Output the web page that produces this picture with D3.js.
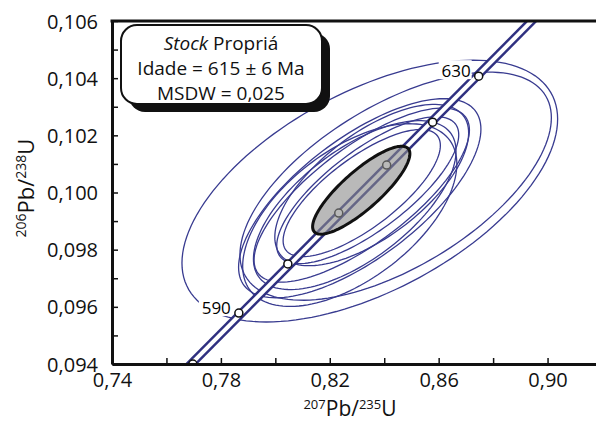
<!DOCTYPE html>
<html>
<head>
<meta charset="utf-8">
<script src="https://cdn.jsdelivr.net/npm/d3@7"></script>
<style>
  body { margin: 0; background: #fff; }
  text { font-family: "Open Sans", sans-serif; }
</style>
</head>
<body>
<div id="chart"></div>
<script>
var width = 596;
var height = 423;

// axis ticks
var xTicks = [0.74, 0.78, 0.82, 0.86, 0.90];
var xMinorTicks = [0.76, 0.80, 0.84, 0.88, 0.92];
var yTicks = [0.094, 0.096, 0.098, 0.100, 0.102, 0.104, 0.106];
var yMinorTicks = [0.095, 0.097, 0.099, 0.101, 0.103, 0.105];

// concordia age markers
var markerX = [0.7697, 0.7866, 0.8046, 0.8233, 0.8409, 0.8578, 0.8747];
var markerY = [0.0940, 0.09578, 0.09750, 0.09928, 0.10096, 0.10246, 0.10407];
var markerLabels = ['', '590', '', '', '', '', '630'];

// concordia band end points
var concX = [0.7680, 0.8952];
var concY = [0.0939, 0.1061];

// error ellipses: centre, half widths and correlation
var ellCx  = [0.8347, 0.8442, 0.83101, 0.83174, 0.82917, 0.83394, 0.83174, 0.82734, 0.83541];
var ellCy  = [0.10005, 0.10022, 0.09980, 0.09991, 0.09956, 0.10008, 0.09998, 0.09921, 0.10026];
var ellSx  = [0.0690, 0.0572, 0.04451, 0.03956, 0.03721, 0.03343, 0.02888, 0.03934, 0.03560];
var ellSy  = [0.00458, 0.00399, 0.003483, 0.003045, 0.002955, 0.002570, 0.002224, 0.003196, 0.002822];
var ellRho = [0.55, 0.60, 0.693, 0.747, 0.638, 0.754, 0.749, 0.559, 0.646];

// mean (concordia age) ellipse
var meanEll = { cx: 0.83156, cy: 0.10008, sx: 0.01787, sy: 0.001538, rho: 0.83 };

var boxLines = ['Propriá', 'Idade = 615 ± 6 Ma', 'MSDW = 0,025'];

var x = d3.scaleLinear().domain([0.74, 0.92]).range([112, 602]);
var y = d3.scaleLinear().domain([0.094, 0.106]).range([364, 21]);

var fmt = (d) => d3.format('.2f')(d).replace('.', ',');
var fmtY = (d) => d3.format('.3f')(d).replace('.', ',');

var svg = d3.select('#chart')
    .append('svg')
    .attr('width', width)
    .attr('height', height);

svg.append('clipPath')
    .attr('id', 'plot')
    .append('rect')
    .attr('x', x(0.74))
    .attr('y', y(0.106))
    .attr('width', width - x(0.74))
    .attr('height', y(0.094) - y(0.106));

var plot = svg.append('g').attr('clip-path', 'url(#plot)');

function ellipsePoints(cx, cy, sx, sy, rho) {
    var pts = [];
    var n = 140;
    var k = Math.sqrt(1 - rho * rho);
    for (var i = 0; i < n; i++) {
        var t = i / n * 2 * Math.PI;
        pts.push([cx + sx * Math.cos(t), cy + sy * (rho * Math.cos(t) + k * Math.sin(t))]);
    }
    return pts;
}

var line = d3.line()
    .x((d) => x(d[0]))
    .y((d) => y(d[1]))
    .curve(d3.curveLinearClosed);

var ellipses = ellCx.map((d, i) => ellipsePoints(ellCx[i], ellCy[i], ellSx[i], ellSy[i], ellRho[i]));

plot.selectAll('.ell')
    .data(ellipses)
    .enter()
    .append('path')
    .attr('class', 'ell')
    .attr('d', line)
    .attr('fill', 'none')
    .attr('stroke', '#383b90')
    .attr('stroke-width', 1.3);

// concordia band
var conc = [[concX[0], concY[0]], [concX[1], concY[1]]];
var openLine = d3.line().x((d) => x(d[0])).y((d) => y(d[1]));
plot.append('path')
    .attr('d', openLine(conc))
    .attr('stroke', '#2f3080')
    .attr('stroke-width', 9)
    .attr('fill', 'none');
plot.append('path')
    .attr('d', openLine(conc))
    .attr('stroke', '#ffffff')
    .attr('stroke-width', 4)
    .attr('fill', 'none');

// labels with white backing
var labels = plot.selectAll('.lab')
    .data(markerLabels.map((d, i) => ({ t: d, i: i })).filter((d) => d.t !== ''))
    .enter()
    .append('g')
    .attr('class', 'lab');
labels.append('rect')
    .attr('x', (d) => x(markerX[d.i]) - 40)
    .attr('y', (d) => y(markerY[d.i]) - 16)
    .attr('width', 33)
    .attr('height', 19)
    .attr('fill', '#fff');
labels.append('text')
    .attr('x', (d) => x(markerX[d.i]) - 8)
    .attr('y', (d) => y(markerY[d.i]) + 1)
    .attr('text-anchor', 'end')
    .attr('font-size', 17)
    .text((d) => d.t);

// markers
plot.selectAll('.mk')
    .data(markerX)
    .enter()
    .append('circle')
    .attr('class', 'mk')
    .attr('cx', (d) => x(d))
    .attr('cy', (d, i) => y(markerY[i]))
    .attr('r', 4)
    .attr('fill', '#fff')
    .attr('stroke', '#111')
    .attr('stroke-width', 1.5);

// mean ellipse
plot.append('path')
    .attr('d', line(ellipsePoints(meanEll.cx, meanEll.cy, meanEll.sx, meanEll.sy, meanEll.rho)))
    .attr('fill', '#8a8a8a')
    .attr('fill-opacity', 0.6)
    .attr('stroke', '#111')
    .attr('stroke-width', 3);

// axes
var axisB = d3.axisBottom(x).tickValues(xTicks.concat(xMinorTicks)).tickSize(-6).tickSizeOuter(0)
    .tickPadding(9)
    .tickFormat((d) => xTicks.some((t) => Math.abs(t - d) < 1e-9) ? fmt(d) : '');
var gx = svg.append('g')
    .attr('transform', `translate(0, ${y(0.094)})`)
    .call(axisB);

var axisL = d3.axisLeft(y).tickValues(yTicks.concat(yMinorTicks)).tickSize(-6).tickSizeOuter(0)
    .tickPadding(14)
    .tickFormat((d) => yTicks.some((t) => Math.abs(t - d) < 1e-9) ? fmtY(d) : '');
var gy = svg.append('g')
    .attr('transform', `translate(${x(0.74)}, 0)`)
    .call(axisL);

[gx, gy].forEach((g) => {
    g.select('.domain').attr('stroke', '#111').attr('stroke-width', 3);
    g.selectAll('.tick line').attr('stroke', '#111').attr('stroke-width', 1.5);
    g.selectAll('.tick text').attr('font-size', 20).attr('fill', '#111')
        .attr('font-family', '"Open Sans", sans-serif');
});
gy.selectAll('.tick text').attr('dy', '0.35em');

// top frame line
svg.append('line')
    .attr('x1', x(0.74) - 1.5)
    .attr('x2', width)
    .attr('y1', y(0.106))
    .attr('y2', y(0.106))
    .attr('stroke', '#111')
    .attr('stroke-width', 3);

// axis titles
var xt = svg.append('text')
    .attr('x', 350)
    .attr('y', 416)
    .attr('text-anchor', 'middle')
    .attr('font-size', 21)
    .attr('fill', '#111');
xt.append('tspan').attr('font-size', 13).attr('dy', -7).text('207');
xt.append('tspan').attr('dy', 7).text('Pb/');
xt.append('tspan').attr('font-size', 13).attr('dy', -7).text('235');
xt.append('tspan').attr('dy', 7).text('U');

var yt = svg.append('text')
    .attr('transform', 'translate(34, 188) rotate(-90)')
    .attr('text-anchor', 'middle')
    .attr('font-size', 22)
    .attr('fill', '#111');
yt.append('tspan').attr('font-size', 14).attr('dy', -8).text('206');
yt.append('tspan').attr('dy', 8).text('Pb/');
yt.append('tspan').attr('font-size', 14).attr('dy', -8).text('238');
yt.append('tspan').attr('dy', 8).text('U');

// info box
svg.append('rect')
    .attr('x', 129).attr('y', 33)
    .attr('width', 201).attr('height', 79)
    .attr('rx', 16)
    .attr('fill', '#111');
svg.append('rect')
    .attr('x', 121).attr('y', 25)
    .attr('width', 201).attr('height', 79)
    .attr('rx', 16)
    .attr('fill', '#fff')
    .attr('stroke', '#111')
    .attr('stroke-width', 2);

var t0 = svg.append('text')
    .attr('x', 221).attr('y', 50)
    .attr('text-anchor', 'middle')
    .attr('font-size', 19)
    .attr('fill', '#111');
t0.append('tspan').attr('font-style', 'italic').text('Stock ');
t0.append('tspan').text(boxLines[0]);

svg.selectAll('.boxline')
    .data(boxLines.slice(1))
    .enter()
    .append('text')
    .attr('class', 'boxline')
    .attr('x', 221)
    .attr('y', (d, i) => 75 + i * 25)
    .attr('text-anchor', 'middle')
    .attr('font-size', 19)
    .attr('fill', '#111')
    .text((d) => d);
</script>
</body>
</html>
